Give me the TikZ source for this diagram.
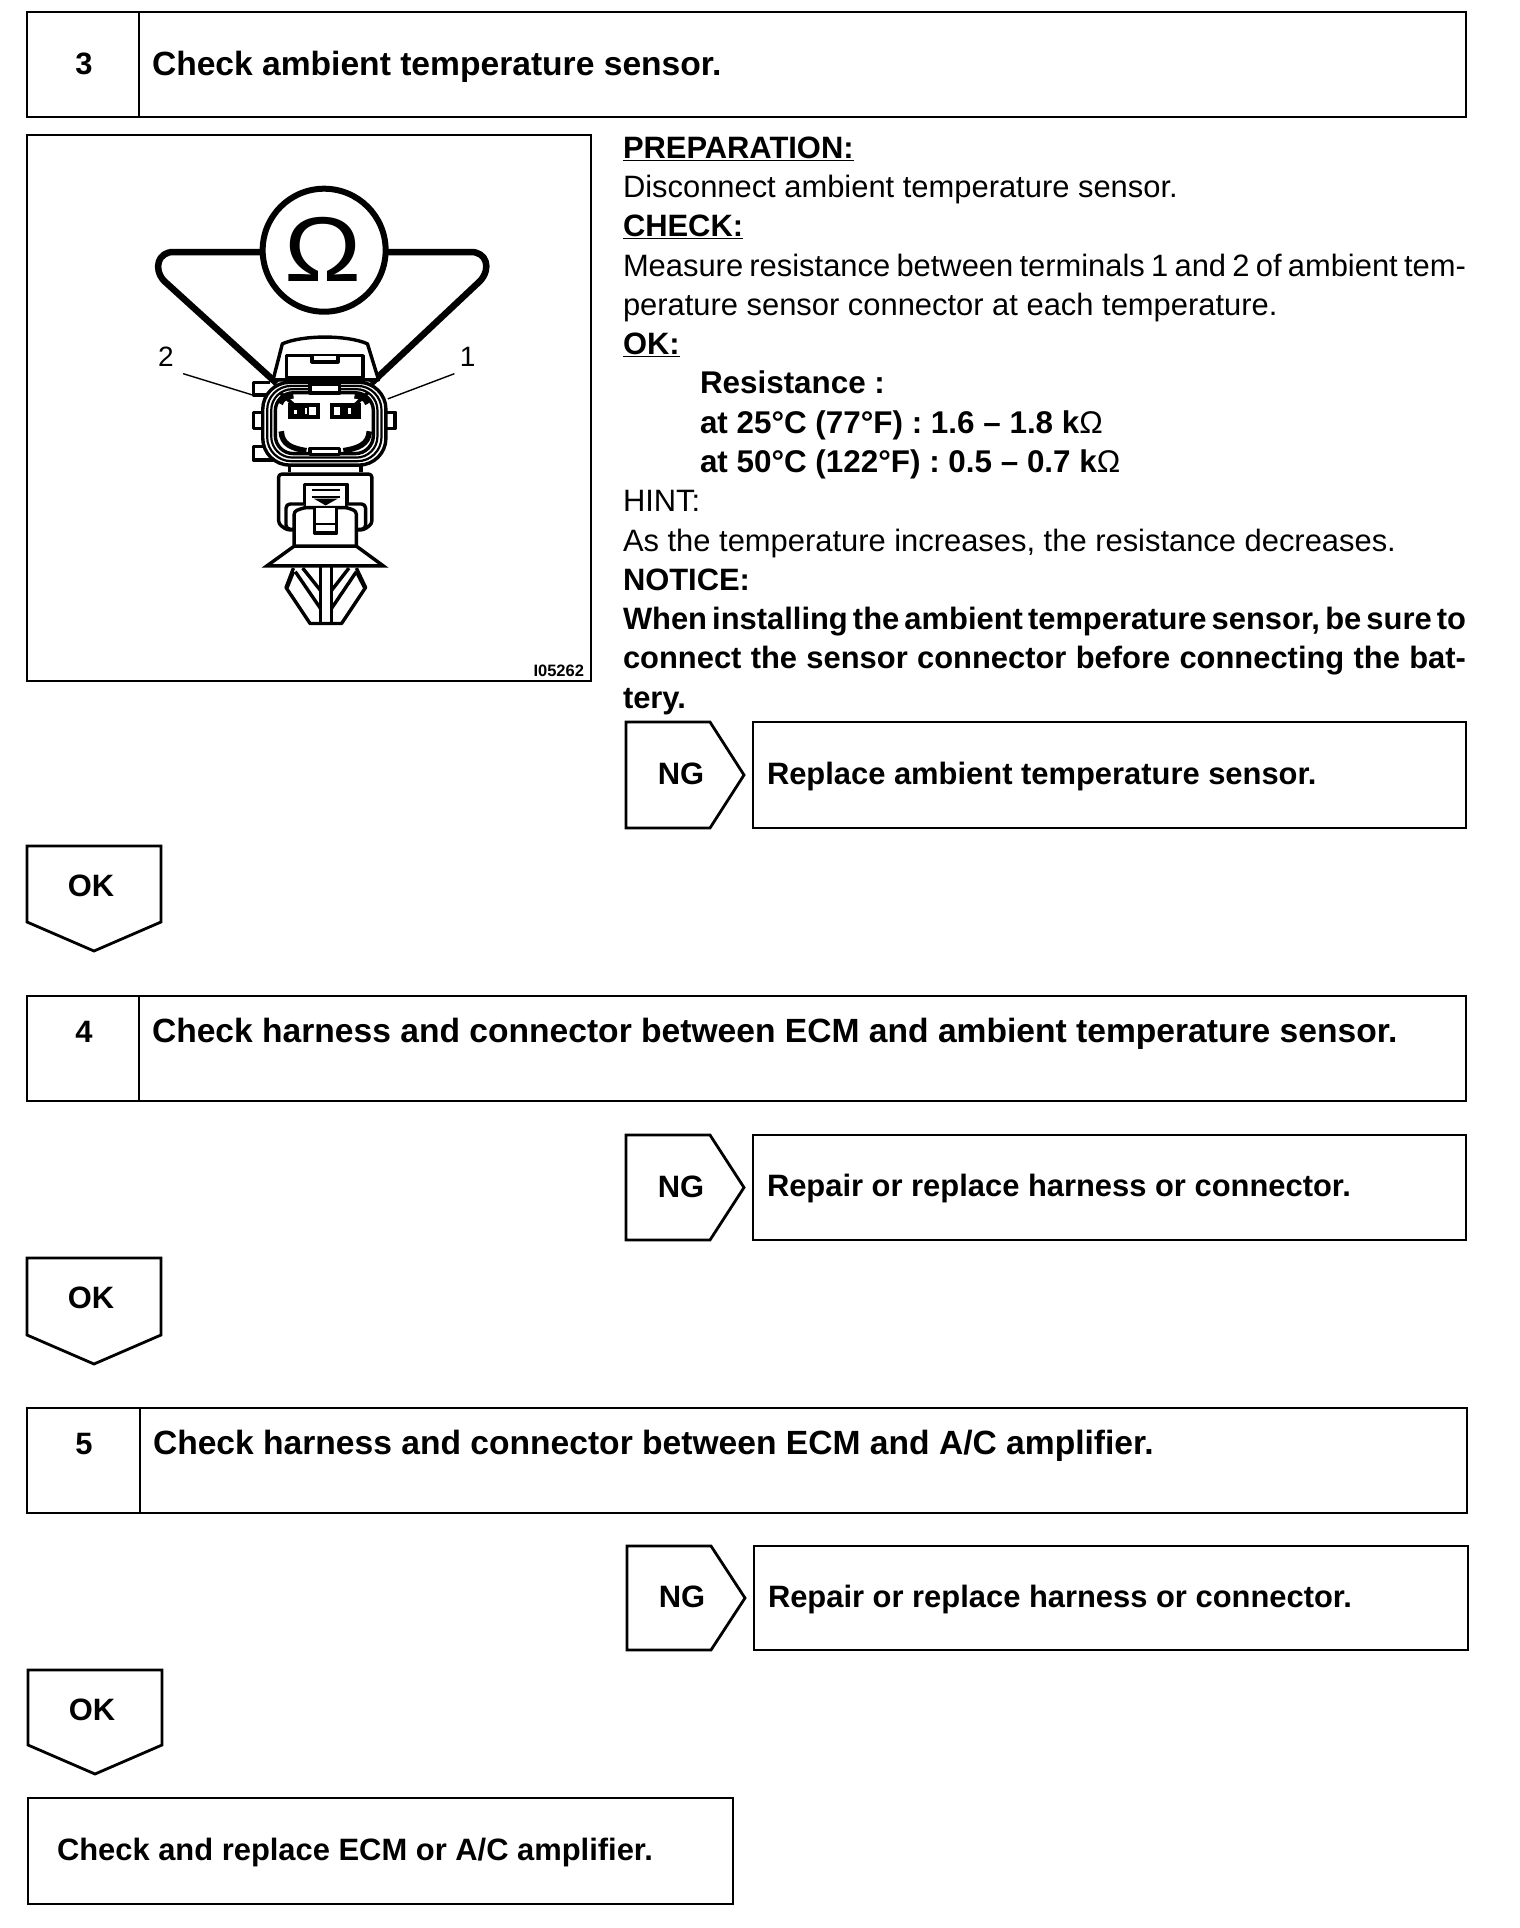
\documentclass[tikz,border=0pt]{standalone}
\usepackage{fontspec}
\setmainfont{Liberation Sans}
\newcommand{\txtline}[5][]{\node[txt,#1] (#2) at (#3,#4) {#5};}
\newcommand{\fitline}[5][]{\node[txt,#1] (#2) at (#3,#4) {\makebox[843pt][s]{\spaceskip=0.14em plus 1em minus 0.02em\relax #5}};}
\newcommand{\ngtag}[4]{% name, left x, top y, bottom y
  \coordinate (#1a) at (#2,#3);
  \draw[boxline] (#1a) -- ++(84,0) -- ++(34,{(#4-#3)/2}) -- ++(-34,{(#4-#3)/2}) -- ++(-84,0) -- cycle;
  \node[bold] (#1) at (#2+55,{(#3+#4)/2-1}) {NG};}
\newcommand{\oktag}[4]{% name, left x, top y, shoulder y
  \coordinate (#1a) at (#2,#3);
  \draw[boxline] (#1a) -- ++(134,0) -- (#2+134,#4) -- (#2+67,#4+29) -- (#2,#4) -- cycle;
  \node[bold] (#1) at (#2+64,#3+40) {OK};}
\tikzset{
  boxline/.style={draw=black,line width=2.8pt,line join=miter},
  txt/.style={anchor=base west,inner sep=0pt,outer sep=0pt,font=\fontsize{30.9}{36}\selectfont},
  bold/.style={inner sep=0pt,outer sep=0pt,font=\fontsize{30.9}{36}\selectfont\bfseries},
  btxt/.style={anchor=base west,inner sep=0pt,outer sep=0pt,font=\fontsize{30.9}{36}\selectfont\bfseries},
  title/.style={anchor=base west,inner sep=0pt,outer sep=0pt,font=\fontsize{33.6}{38}\selectfont\bfseries},
  spec/.style={anchor=base west,inner sep=0pt,outer sep=0pt,font=\fontsize{31.4}{36}\selectfont\bfseries},
  wire/.style={draw=black,line width=6.5pt,line join=round},
  part/.style={draw=black,line width=3.4pt,line join=round,fill=white},
  thin part/.style={draw=black,line width=2.2pt},
  lead/.style={draw=black,line width=1.4pt}
}
\begin{document}
\begin{tikzpicture}[x=1pt,y=-1pt]
\useasboundingbox[fill=white] (0,0) rectangle (1520,1928);
% step 3
\draw[boxline] (27,12) rectangle (1466,117);
\draw[boxline] (139,12) -- (139,117);
\node[bold] (n3) at (84,64) {3};
\node[title] (t3) at (152,75) {Check ambient temperature sensor.};
% figure frame
\draw[boxline] (27,135) rectangle (591,681);
\begin{scope}[shift={(21.5,129.6)},x=0.37pt,y=-0.36pt]
  % wires and meter
  \draw[wire] (650,340) -- (410,340) .. controls (370,340) and (355,385) .. (385,420) -- (690,705);
  \draw[wire] (985,340) -- (1215,340) .. controls (1257,340) and (1270,385) .. (1240,420) -- (945,705);
  \node[circle,draw=black,line width=6pt,minimum size=123pt,inner sep=0pt] (meter) at (818,335) {};
  \node[inner sep=0pt,xscale=1.12,font=\fontsize{92}{92}\selectfont] (ohm) at (816,332) {Ω};
  % connector top cover
  \draw[part] (680,695) -- (705,595) .. controls (760,570) and (880,570) .. (935,595) -- (965,695) -- cycle;
  \draw[part] (717,628) rectangle (923,688);
  \draw[part] (785,628) -- (785,645) -- (855,645) -- (855,628);
  % side tabs
  \draw[part] (672,702) -- (627,702) -- (627,737) -- (665,737);
  \draw[part] (650,785) -- (627,785) -- (627,830) -- (650,830);
  \draw[part] (665,880) -- (627,880) -- (627,918) -- (680,918);
  \draw[part] (985,785) -- (1010,785) -- (1010,830) -- (985,830);
  % neck and lower body
  \draw[part] (725,925) -- (725,950) (918,925) -- (918,950);
  \draw[part,rounded corners=3pt] (695,957) -- (947,957) -- (947,1095) -- (925,1112) -- (717,1112) -- (695,1095) -- cycle;
  % concentric shell
  \draw[part,rounded corners=27pt] (652,702) rectangle (985,932);
  \draw[thin part,rounded corners=24pt] (664,712) rectangle (973,921);
  \draw[thin part,rounded corners=21pt] (675,721) rectangle (962,911);
  \draw[part,rounded corners=18pt] (686,731) rectangle (951,900);
  % top/bottom keys
  \draw[part] (780,708) rectangle (860,732);
  \draw[part] (780,886) rectangle (860,902);
  % thick inner corners
  \draw[black,line width=5pt] (700,762) .. controls (705,745) and (720,742) .. (735,740);
  \draw[black,line width=5pt] (935,762) .. controls (930,745) and (915,742) .. (900,740);
  \draw[black,line width=5.5pt] (702,838) .. controls (704,875) and (730,885) .. (770,892);
  \draw[black,line width=5.5pt] (940,838) .. controls (938,875) and (910,885) .. (870,892);
  % terminals
  \draw[black,line width=4pt,fill=white] (727,764) rectangle (802,798);
  \fill[black] (727,764) rectangle (778,798);
  \fill[white] (737,778) rectangle (745,790);
  \fill[white] (765,772) rectangle (772,790);
  \draw[black,line width=4pt,fill=white] (838,764) rectangle (912,798);
  \fill[black] (862,764) rectangle (912,798);
  \fill[white] (848,772) rectangle (856,790);
  \fill[white] (882,772) rectangle (890,790);
  \draw[black,line width=3.5pt] (738,766) -- (700,732) (900,766) -- (935,732);
  % latch
  \draw[part] (765,985) rectangle (880,1050);
  \draw[thin part] (785,1002) -- (860,1002) (785,1020) -- (860,1020);
  \fill[black] (790,1025) -- (855,1025) -- (822,1044) -- cycle;
  \draw[part,rounded corners=4pt] (735,1110) -- (715,1110) -- (715,1040) -- (765,1040);
  \draw[part,rounded corners=4pt] (905,1110) -- (930,1110) -- (930,1040) -- (880,1040);
  % plug
  \draw[part,rounded corners=3pt] (737,1155) -- (737,1060) -- (765,1050) -- (880,1050) -- (905,1060) -- (905,1155);
  \draw[part] (792,1052) -- (792,1120) -- (852,1120) -- (852,1052);
  \draw[thin part] (792,1095) -- (852,1095);
  % clip
  \draw[part] (735,1218) -- (715,1272) -- (780,1372) -- (865,1372) -- (930,1272) -- (905,1218);
  \draw[part] (808,1215) -- (808,1372) (838,1215) -- (838,1372);
  \draw[part] (740,1228) -- (808,1330) (760,1218) -- (808,1280);
  \draw[part] (905,1228) -- (838,1330) (885,1218) -- (838,1280);
  \draw[part] (718,1272) -- (735,1228) (927,1272) -- (905,1228);
  \draw[part,line join=miter] (737,1157) -- (905,1157) -- (978,1212) -- (663,1212) -- cycle;
  % labels and leaders
  \node[inner sep=0pt,font=\fontsize{28}{28}\selectfont] (two) at (390,632) {2};
  \node[inner sep=0pt,font=\fontsize{28}{28}\selectfont] (one) at (1206,632) {1};
  \coordinate (twoend) at (627,738);
  \coordinate (oneend) at (990,748);
  \draw[lead] (437,678) -- (twoend);
  \draw[lead] (1170,678) -- (oneend);
  \node[inner sep=0pt,font=\fontsize{16.5}{17}\selectfont\bfseries] (code) at (1452,1503) {I05262};
\end{scope}
% instruction text
\txtline[btxt]{l1}{623}{158}{\underline{PREPARATION:}}
\txtline{l2}{623}{197.3}{Disconnect ambient temperature sensor.}
\txtline[btxt]{l3}{623}{236.7}{\underline{CHECK:}}
\fitline{l4}{623}{276}{Measure resistance between terminals 1 and 2 of ambient tem-}
\txtline{l5}{623}{315.4}{perature sensor connector at each temperature.}
\txtline[btxt]{l6}{623}{354.2}{\underline{OK:}}
\txtline[spec]{l7}{700}{393.6}{Resistance :}
\txtline[spec]{l8}{700}{433.4}{at 25°C (77°F) : 1.6 – 1.8 k{\mdseries Ω}}
\txtline[spec]{l9}{700}{472.8}{at 50°C (122°F) : 0.5 – 0.7 k{\mdseries Ω}}
\txtline{l10}{623}{511.6}{HINT:}
\txtline{l11}{623}{551}{As the temperature increases, the resistance decreases.}
\txtline[btxt]{l12}{623}{590.3}{NOTICE:}
\fitline[btxt]{l13}{623}{629.2}{When installing the ambient temperature sensor, be sure to}
\fitline[btxt]{l14}{623}{668.5}{connect the sensor connector before connecting the bat-}
\txtline[btxt]{l15}{623}{708.9}{tery.}
% NG / OK row of step 3
\ngtag{ng1}{626}{722}{828}
\draw[boxline] (753,722) rectangle (1466,828);
\node[btxt] (r1) at (767,784) {Replace ambient temperature sensor.};
\oktag{ok1}{27}{846}{922}
% step 4
\draw[boxline] (27,996) rectangle (1466,1101);
\draw[boxline] (139,996) -- (139,1101);
\node[bold] (n4) at (84,1032) {4};
\node[title] (t4) at (152,1042) {Check harness and connector between ECM and ambient temperature sensor.};
\ngtag{ng2}{626}{1135}{1240}
\draw[boxline] (753,1135) rectangle (1466,1240);
\node[btxt] (r2) at (767,1196) {Repair or replace harness or connector.};
\oktag{ok2}{27}{1258}{1335}
% step 5
\draw[boxline] (27,1408) rectangle (1467,1513);
\draw[boxline] (140,1408) -- (140,1513);
\node[bold] (n5) at (84,1444) {5};
\node[title] (t5) at (153,1454) {Check harness and connector between ECM and A/C amplifier.};
\ngtag{ng3}{627}{1546}{1650}
\draw[boxline] (754,1546) rectangle (1468,1650);
\node[btxt] (r3) at (768,1607) {Repair or replace harness or connector.};
\oktag{ok3}{28}{1670}{1745}
% final box
\draw[boxline] (28,1798) rectangle (733,1904);
\node[btxt] (fin) at (57,1860) {Check and replace ECM or A/C amplifier.};
\end{tikzpicture}
\end{document}
